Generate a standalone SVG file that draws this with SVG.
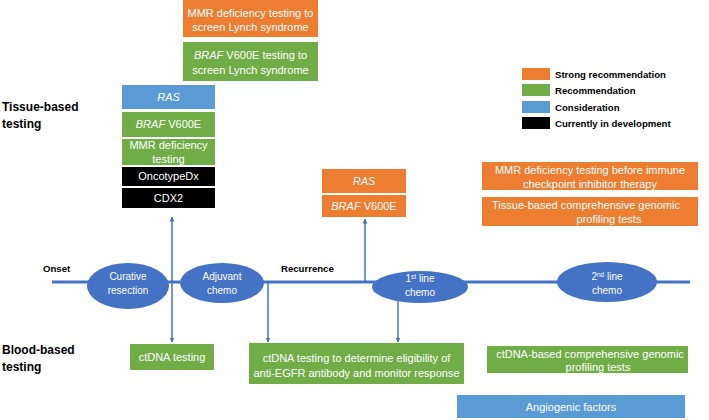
<svg xmlns="http://www.w3.org/2000/svg" width="709" height="420" viewBox="0 0 709 420">
<defs>
<marker id="ah" viewBox="0 0 10 10" refX="9" refY="5" markerWidth="5" markerHeight="5" orient="auto-start-reverse" markerUnits="userSpaceOnUse">
<path d="M0,0 L10,5 L0,10 z" fill="#4472C4"/>
</marker>
<style>
text{font-family:"Liberation Sans",Arial,sans-serif}
.w{fill:#fff;font-size:11px;text-anchor:middle}
.e{fill:#fff;font-size:10px;text-anchor:middle}
.lab{fill:#000;font-weight:bold;font-size:12px}
.sm{fill:#000;font-weight:bold;font-size:9.6px}
.leg{fill:#000;font-weight:bold;font-size:9.6px}
.or{fill:#ED7D31}
.gr{fill:#70AD47}
.bl{fill:#5B9BD5}
.bk{fill:#000}
.el{fill:#4472C4}
.ar{stroke:#4472C4;stroke-width:1.5;fill:none}
i{font-style:italic}
</style>
</defs>
<g id="labels">
<text class="lab" x="2" y="111">Tissue-based</text>
<text class="lab" x="2" y="128">testing</text>
<text class="lab" x="2" y="354">Blood-based</text>
<text class="lab" x="2" y="371">testing</text>
<text class="sm" x="43" y="272">Onset</text>
<text class="sm" x="281" y="272">Recurrence</text>
</g>
<g id="legend">
<rect class="or" x="522" y="68" width="28" height="12"/>
<text class="leg" x="555" y="78">Strong recommendation</text>
<rect class="gr" x="522" y="84" width="28" height="12"/>
<text class="leg" x="555" y="94">Recommendation</text>
<rect class="bl" x="522" y="101" width="28" height="12"/>
<text class="leg" x="555" y="111">Consideration</text>
<rect class="bk" x="522" y="117" width="28" height="12"/>
<text class="leg" x="555" y="127">Currently in development</text>
</g>
<g id="connectors">
<line x1="52" y1="282" x2="690" y2="282" stroke="#4472C4" stroke-width="3"/>
<line class="ar" x1="172" y1="217" x2="172" y2="342" marker-start="url(#ah)" marker-end="url(#ah)"/>
<line class="ar" x1="268" y1="282" x2="268" y2="342" marker-end="url(#ah)"/>
<line class="ar" x1="398" y1="300" x2="398" y2="342" marker-end="url(#ah)"/>
<line class="ar" x1="365" y1="282" x2="365" y2="219" marker-end="url(#ah)"/>
</g>
<g id="lynch-mmr">
<rect class="or" x="183" y="0" width="135" height="37"/>
<text class="w" x="250.5" y="17">MMR deficiency testing to</text>
<text class="w" x="250.5" y="31">screen Lynch syndrome</text>
</g>
<g id="lynch-braf">
<rect class="gr" x="183" y="42" width="135" height="39"/>
<text class="w" x="250.5" y="59"><tspan font-style="italic">BRAF</tspan> V600E testing to</text>
<text class="w" x="250.5" y="74">screen Lynch syndrome</text>
</g>
<g id="t-ras">
<rect class="bl" x="122" y="85" width="93" height="24"/>
<text class="w" x="168.5" y="101" font-style="italic">RAS</text>
</g>
<g id="t-braf">
<rect class="gr" x="122" y="112" width="93" height="25"/>
<text class="w" x="168.5" y="128"><tspan font-style="italic">BRAF</tspan> V600E</text>
</g>
<g id="t-mmr">
<rect class="gr" x="122" y="139" width="93" height="26"/>
<text class="w" x="168.5" y="149">MMR deficiency</text>
<text class="w" x="168.5" y="163">testing</text>
</g>
<g id="t-onco">
<rect class="bk" x="122" y="167" width="93" height="19"/>
<text class="w" x="168.5" y="180">OncotypeDx</text>
</g>
<g id="t-cdx2">
<rect class="bk" x="122" y="188" width="93" height="20"/>
<text class="w" x="168.5" y="202">CDX2</text>
</g>
<g id="r-ras">
<rect class="or" x="322" y="169" width="84" height="24"/>
<text class="w" x="364" y="185" font-style="italic">RAS</text>
</g>
<g id="r-braf">
<rect class="or" x="322" y="195" width="84" height="22"/>
<text class="w" x="364" y="210"><tspan font-style="italic">BRAF</tspan> V600E</text>
</g>
<g id="mmr-ici">
<rect class="or" x="482" y="162" width="216" height="28"/>
<text class="w" x="590" y="174">MMR deficiency testing before immune</text>
<text class="w" x="590" y="188">checkpoint inhibitor therapy</text>
</g>
<g id="tissue-cgp">
<rect class="or" x="482" y="197" width="216" height="29"/>
<text class="w" x="586" y="209">Tissue-based  comprehensive genomic</text>
<text class="w" x="609" y="223">profiling tests</text>
</g>
<g id="curative">
<ellipse class="el" cx="128" cy="286" rx="41" ry="23"/>
<text class="e" x="128" y="280">Curative</text>
<text class="e" x="128" y="294">resection</text>
</g>
<g id="adjuvant">
<ellipse class="el" cx="222" cy="283" rx="42" ry="20"/>
<text class="e" x="222" y="280">Adjuvant</text>
<text class="e" x="222" y="294">chemo</text>
</g>
<g id="first-line">
<ellipse class="el" cx="420" cy="287" rx="48" ry="16"/>
<text class="e" x="420" y="282">1<tspan font-size="6.5" dy="-3.5">st</tspan><tspan dy="3.5"> line</tspan></text>
<text class="e" x="420" y="296">chemo</text>
</g>
<g id="second-line">
<ellipse class="el" cx="607" cy="282" rx="50" ry="20"/>
<text class="e" x="607" y="280">2<tspan font-size="6.5" dy="-3.5">nd</tspan><tspan dy="3.5"> line</tspan></text>
<text class="e" x="607" y="294">chemo</text>
</g>
<g id="ctdna">
<rect class="gr" x="130" y="344" width="84" height="26"/>
<text class="w" x="172" y="361">ctDNA testing</text>
</g>
<g id="ctdna-egfr">
<rect class="gr" x="249" y="343" width="215" height="41"/>
<text class="w" x="356.5" y="362">ctDNA testing to determine eligibility of</text>
<text class="w" x="356.5" y="377">anti-EGFR antibody  and monitor response</text>
</g>
<g id="ctdna-cgp">
<rect class="gr" x="487" y="346" width="201" height="27"/>
<text class="w" x="590" y="358">ctDNA-based comprehensive genomic</text>
<text class="w" x="598" y="371">profiling tests</text>
</g>
<g id="angio">
<rect class="bl" x="457" y="395" width="228" height="23"/>
<text class="w" x="571" y="411">Angiogenic factors</text>
</g>
</svg>
